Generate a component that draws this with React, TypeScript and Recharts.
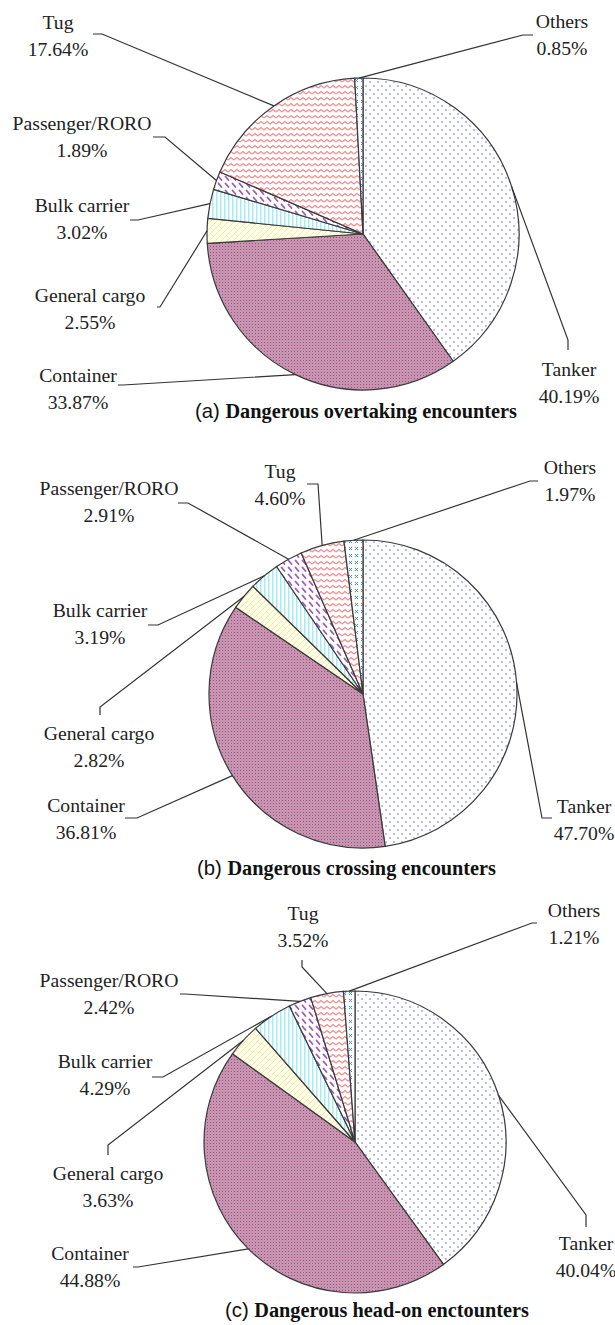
import { PieChart, Pie, Cell } from "recharts";

// ship types, clockwise from 12 o'clock
const categories = [
  "Tanker",
  "Container",
  "General cargo",
  "Bulk carrier",
  "Passenger/RORO",
  "Tug",
  "Others",
];

// share of dangerous encounters (%)
const overtakingShares = [40.19, 33.87, 2.55, 3.02, 1.89, 17.64, 0.85];
const crossingShares = [47.7, 36.81, 2.82, 3.19, 2.91, 4.6, 1.97];
const headOnShares = [40.04, 44.88, 3.63, 4.29, 2.42, 3.52, 1.21];

const panelTags = ["(a)", "(b)", "(c)"];
const panelTitles = [
  "Dangerous overtaking encounters",
  "Dangerous crossing encounters",
  "Dangerous head-on enctounters",
];

const patternIds = ["patTanker", "patContainer", "patGeneral", "patBulk", "patPassenger", "patTug", "patOthers"];

const SERIF = "'Liberation Serif', 'Times New Roman', serif";
const SANS = "'Liberation Sans', Arial, sans-serif";

type Pt = [number, number];
type LabelPos = { t: Pt; a: Pt; e: Pt };

// label text / leader anchor / elbow, relative to the pie centre
const layoutA: Record<string, LabelPos> = {
  Tug: { t: [-305, -205], a: [-270, -200], e: [-261, -200] },
  Others: { t: [199, -206], a: [170, -199], e: [160, -199] },
  "Passenger/RORO": { t: [-281, -104], a: [-210, -97], e: [-198, -97] },
  "Bulk carrier": { t: [-281, -22], a: [-233, -14], e: [-225, -14] },
  "General cargo": { t: [-273, 68], a: [-206, 73], e: [-203, 73] },
  Container: { t: [-285, 148], a: [-245, 151], e: [-240, 151] },
  Tanker: { t: [206, 142], a: [205, 116], e: [205, 106] },
};

const layoutB: Record<string, LabelPos> = {
  "Passenger/RORO": { t: [-254, -199], a: [-185, -191], e: [-175, -191] },
  Tug: { t: [-83, -216], a: [-56, -210], e: [-45, -210] },
  Others: { t: [207, -220], a: [175, -213], e: [167, -213] },
  "Bulk carrier": { t: [-263, -77], a: [-215, -69], e: [-205, -69] },
  "General cargo": { t: [-264, 46], a: [-263, 21], e: [-263, 13] },
  Container: { t: [-277, 118], a: [-238, 124], e: [-226, 124] },
  Tanker: { t: [221, 119], a: [189, 124], e: [179, 124] },
};

const layoutC: Record<string, LabelPos> = {
  Tug: { t: [-52, -222], a: [-53, -182], e: [-53, -175] },
  "Passenger/RORO": { t: [-246, -155], a: [-175, -148], e: [-170, -148] },
  "Bulk carrier": { t: [-250, -74], a: [-203, -65], e: [-192, -65] },
  "General cargo": { t: [-247, 38], a: [-247, 13], e: [-247, 3] },
  Container: { t: [-265, 118], a: [-222, 125], e: [-217, 125] },
  Others: { t: [219, -225], a: [182, -219], e: [177, -219] },
  Tanker: { t: [231, 108], a: [231, 85], e: [231, 73] },
};

const panels = [
  { shares: overtakingShares, layout: layoutA, top: 0, height: 430, cx: 358, cy: 229, r: 156, titleX: 195, titleY: 418 },
  { shares: crossingShares, layout: layoutB, top: 440, height: 445, cx: 358, cy: 249, r: 154, titleX: 197, titleY: 875 },
  { shares: headOnShares, layout: layoutC, top: 885, height: 440, cx: 350, cy: 252, r: 151, titleX: 225, titleY: 1317 },
];

const RAD = Math.PI / 180;
const labelStyle = { fontFamily: SERIF, fontSize: 19.7, fill: "#222" };

const makeLabel = (shares: number[], layout: Record<string, LabelPos>) => (props: any) => {
  const { cx, cy, midAngle, outerRadius, index } = props;
  const name = categories[index];
  const pos = layout[name];
  if (!pos) return null;
  const px = cx + outerRadius * Math.cos(-midAngle * RAD);
  const py = cy + outerRadius * Math.sin(-midAngle * RAD);
  const tx = cx + pos.t[0];
  const ty = cy + pos.t[1];
  return (
    <g key={`lbl-${index}`}>
      <polyline
        points={`${cx + pos.a[0]},${cy + pos.a[1]} ${cx + pos.e[0]},${cy + pos.e[1]} ${px},${py}`}
        fill="none"
        stroke="#333"
        strokeWidth={1.2}
      />
      <text x={tx} y={ty} textAnchor="middle" style={labelStyle}>
        <tspan x={tx} dy={0} style={labelStyle}>{name}</tspan>
        <tspan x={tx} dy={27} style={labelStyle}>{shares[index].toFixed(2)}%</tspan>
      </text>
    </g>
  );
};

const Patterns = () => (
  <defs>
    <pattern id="patTanker" width="8" height="8" patternUnits="userSpaceOnUse">
      <rect width="8" height="8" fill="#fff" />
      <circle cx="2" cy="2" r="0.9" fill="#9c9cee" />
      <circle cx="6" cy="6" r="0.9" fill="#9c9cee" />
    </pattern>
    <pattern id="patContainer" width="3" height="3" patternUnits="userSpaceOnUse">
      <rect width="3" height="3" fill="#c693b1" />
      <rect x="0" y="0" width="1" height="1" fill="#a2547c" />
    </pattern>
    <pattern id="patGeneral" width="6" height="6" patternUnits="userSpaceOnUse">
      <rect width="6" height="6" fill="#fffee6" />
      <path d="M0,6 L6,0 M-1,1 L1,-1 M5,7 L7,5" stroke="#efeab0" strokeWidth="1" />
    </pattern>
    <pattern id="patBulk" width="4" height="4" patternUnits="userSpaceOnUse">
      <rect width="4" height="4" fill="#fff" />
      <rect x="0" y="0" width="1.5" height="4" fill="#a4edf4" />
    </pattern>
    <pattern id="patPassenger" width="7" height="7" patternUnits="userSpaceOnUse">
      <rect width="7" height="7" fill="#fff" />
      <path d="M1.5,1.5 L4.5,5" stroke="#9c5cb4" strokeWidth="1.8" strokeLinecap="round" />
    </pattern>
    <pattern id="patTug" width="6" height="6" patternUnits="userSpaceOnUse">
      <rect width="6" height="6" fill="#fff" />
      <polyline points="0,4 3,1.5 6,4" fill="none" stroke="#f38a8c" strokeWidth="1.2" />
    </pattern>
    <pattern id="patOthers" width="6" height="7" patternUnits="userSpaceOnUse">
      <rect width="6" height="7" fill="#fff" />
      <path d="M1,2 L4,5 M4,2 L1,5" stroke="#3f8ede" strokeWidth="1" />
    </pattern>
  </defs>
);

export default function App() {
  return (
    <div style={{ position: "absolute", left: 0, top: 0, width: 615, height: 1325, background: "#fff" }}>
      <svg width={615} height={1325} style={{ position: "absolute", left: 0, top: 0, pointerEvents: "none" }}>
        <Patterns />
      </svg>
      {panels.map((p, i) => {
        const data = categories.map((c, k) => ({ name: c, value: p.shares[k] }));
        return (
          <div key={i} style={{ position: "absolute", left: 0, top: p.top }}>
            <PieChart width={615} height={p.height}>
              <Pie
                data={data}
                dataKey="value"
                nameKey="name"
                cx={p.cx}
                cy={p.cy}
                outerRadius={p.r}
                startAngle={90}
                endAngle={-270}
                stroke="#3a3a3a"
                strokeWidth={1.2}
                isAnimationActive={false}
                labelLine={false}
                label={makeLabel(p.shares, p.layout)}
              >
                {data.map((d, k) => (
                  <Cell key={d.name} fill={`url(#${patternIds[k]})`} />
                ))}
              </Pie>
            </PieChart>
          </div>
        );
      })}
      <svg width={615} height={1325} style={{ position: "absolute", left: 0, top: 0, pointerEvents: "none" }}>
        {panels.map((p, i) => (
          <text key={i} x={p.titleX} y={p.titleY} fontSize={20.3} fill="#111">
            <tspan fontFamily={SANS}>{panelTags[i]} </tspan>
            <tspan fontFamily={SERIF} fontWeight="bold">{panelTitles[i]}</tspan>
          </text>
        ))}
      </svg>
    </div>
  );
}
